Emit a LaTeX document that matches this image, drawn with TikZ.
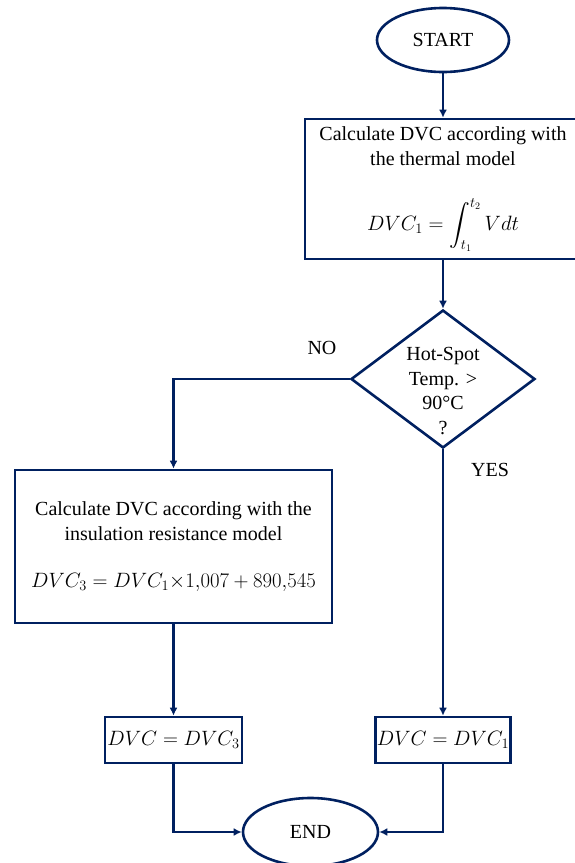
\documentclass[tikz,border=0pt]{standalone}
\usepackage{fontspec}
\setmainfont{Liberation Serif}
\usepackage{amsmath}
\usetikzlibrary{arrows.meta,shapes.geometric}
\definecolor{navy}{HTML}{002060}

\begin{document}
\begin{tikzpicture}[x=1pt,y=-1pt,
    txt/.style={font=\fontsize{20}{25}\selectfont},
    term/.style={txt,ellipse,draw=navy,line width=2.6pt,inner sep=0pt,minimum width=132pt,minimum height=64pt},
    proc/.style={txt,rectangle,draw=navy,line width=2.6pt,inner sep=0pt,align=center},
    decision/.style={diamond,draw=navy,line width=2.6pt,inner sep=0pt,minimum width=184pt,minimum height=138pt},
    flow/.style={draw=navy,line width=2.6pt,-{Latex[length=8pt,width=8pt]}}]
    \useasboundingbox (0,0) rectangle (574,863);

    \node[term] (start) at (443, 40) {START};
    \node[proc, minimum width=276pt, minimum height=140pt] (thermal) at (443, 189)
        {Calculate DVC according with\\the thermal model\\[32pt]
         $DVC_1=\displaystyle\int_{t_1}^{t_2}Vdt$};
    \node[decision] (hotspot) at (443, 379) {};
    \node[txt, align=center, font=\fontsize{20}{24.5}\selectfont] (hotspot_txt) at (443, 391)
        {Hot-Spot\\Temp. >\\90°C\\?};
    \node[proc, minimum width=317pt, minimum height=153pt] (insul) at (173.5, 546.5)
        {Calculate DVC according with the\\insulation resistance model\\[22pt]
         $DVC_3=DVC_1{\times}1{,}007+890{,}545$};
    \node[proc, minimum width=137pt, minimum height=46pt] (dvc_3) at (173.5, 740) {$DVC=DVC_3$};
    \node[proc, minimum width=135pt, minimum height=46pt] (dvc_1) at (443, 740) {$DVC=DVC_1$};
    \node[term, minimum width=135pt, minimum height=68pt] (end) at (310.5, 832) {END};

    \node[txt] (no) at (322, 348) {NO};
    \node[txt] (yes) at (490, 470) {YES};

    \draw[flow] (start) -- (thermal);
    \draw[flow] (thermal) -- (hotspot);
    \draw[flow] (hotspot.west) -| (insul.north);
    \draw[flow] (hotspot.south) -- (dvc_1.north);
    \draw[flow] (insul) -- (dvc_3);
    \draw[flow] (dvc_3) |- (end.west);
    \draw[flow] (dvc_1) |- (end.east);

\end{tikzpicture}
\end{document}
